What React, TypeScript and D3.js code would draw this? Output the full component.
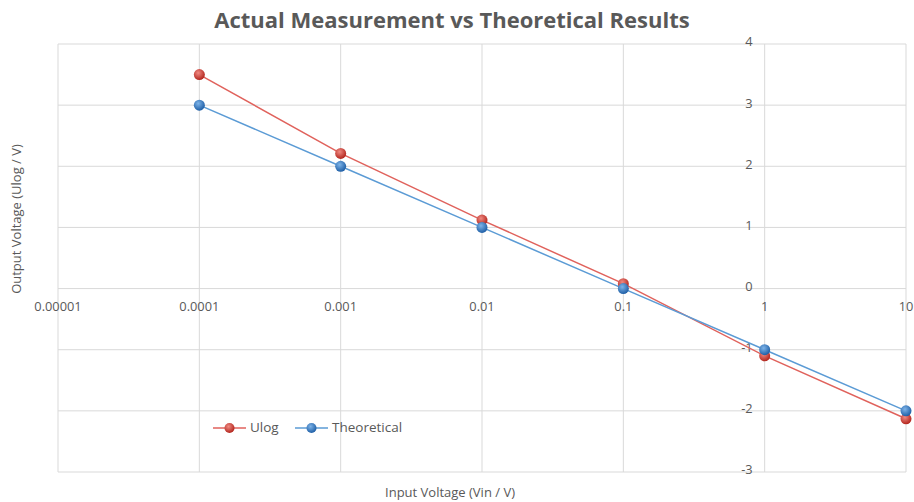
import React, { useEffect, useRef } from 'react'
import * as d3 from 'd3'

const inputVoltage = [0.0001, 0.001, 0.01, 0.1, 1, 10]
const ulogValues = [3.5, 2.21, 1.12, 0.08, -1.1, -2.13]
const theoreticalValues = [3, 2, 1, 0, -1, -2]
const xTicks = [0.00001, 0.0001, 0.001, 0.01, 0.1, 1, 10]
const xTickLabels = ['0.00001', '0.0001', '0.001', '0.01', '0.1', '1', '10']
const yTicks = [-3, -2, -1, 0, 1, 2, 3, 4]

const W = 914, H = 502
const margin = { top: 44, right: 8, bottom: 30, left: 58 }

export default function App() {
  const ref = useRef<SVGSVGElement>(null)

  useEffect(() => {
    const svg = d3.select(ref.current)
    svg.selectAll('*').remove()

    const x = d3.scaleLog().domain([0.00001, 10]).range([margin.left, W - margin.right])
    const y = d3.scaleLinear().domain([-3, 4]).range([H - margin.bottom, margin.top])

    const defs = svg.append('defs')
    const grad = (id, light, dark) => {
      const g = defs.append('radialGradient').attr('id', id)
        .attr('cx', '40%').attr('cy', '35%').attr('r', '65%')
      g.append('stop').attr('offset', '0%').attr('stop-color', light)
      g.append('stop').attr('offset', '100%').attr('stop-color', dark)
    }
    grad('gRed', '#f08a82', '#b3261e')
    grad('gBlue', '#7db3e8', '#1f5fa6')

    const font = "'Open Sans', sans-serif"
    const grid = '#d9d9d9'
    const textColor = '#595959'

    // horizontal gridlines
    svg.append('g').selectAll('line').data(yTicks).join('line')
      .attr('x1', margin.left).attr('x2', W - margin.right)
      .attr('y1', d => y(d)).attr('y2', d => y(d))
      .attr('stroke', grid).attr('stroke-width', 1)

    // vertical gridlines
    svg.append('g').selectAll('line').data(xTicks).join('line')
      .attr('x1', d => x(d)).attr('x2', d => x(d))
      .attr('y1', y(4)).attr('y2', y(-3))
      .attr('stroke', grid).attr('stroke-width', 1)

    // y tick labels (axis crosses at x = 1)
    svg.append('g').selectAll('text').data(yTicks).join('text')
      .attr('x', x(1) - 12).attr('y', d => y(d) - 1)
      .attr('text-anchor', 'end').attr('dominant-baseline', 'middle')
      .attr('font-family', font).attr('font-size', 12.8).attr('fill', textColor)
      .text(d => d)

    // x tick labels (axis crosses at y = 0)
    svg.append('g').selectAll('text').data(xTicks).join('text')
      .attr('x', d => x(d)).attr('y', y(0) + 22)
      .attr('text-anchor', 'middle')
      .attr('font-family', font).attr('font-size', 12.8).attr('fill', textColor)
      .text((d, i) => xTickLabels[i])

    const line = d3.line<number>()
      .x((d, i) => x(inputVoltage[i]))
      .y(d => y(d))

    const series = [
      { name: 'Ulog', values: ulogValues, stroke: '#e0625c', fill: 'url(#gRed)' },
      { name: 'Theoretical', values: theoreticalValues, stroke: '#5b9bd5', fill: 'url(#gBlue)' },
    ]

    series.forEach(s => {
      svg.append('path').datum(s.values)
        .attr('d', line).attr('fill', 'none')
        .attr('stroke', s.stroke).attr('stroke-width', 1.5)
    })
    series.forEach(s => {
      svg.append('g').selectAll('circle').data(s.values).join('circle')
        .attr('cx', (d, i) => x(inputVoltage[i])).attr('cy', d => y(d))
        .attr('r', 5.5).attr('fill', s.fill)
    })

    // legend
    const lg = svg.append('g').attr('transform', 'translate(213,428)')
    const items = [{ s: series[0], dx: 0, w: 33 }, { s: series[1], dx: 82, w: 33 }]
    items.forEach(({ s, dx, w }) => {
      lg.append('line').attr('x1', dx).attr('x2', dx + w).attr('y1', 0).attr('y2', 0)
        .attr('stroke', s.stroke).attr('stroke-width', 1.5)
      lg.append('circle').attr('cx', dx + w / 2).attr('cy', 0).attr('r', 5).attr('fill', s.fill)
      lg.append('text').attr('x', dx + w + 4).attr('y', 0)
        .attr('dominant-baseline', 'middle')
        .attr('font-family', font).attr('font-size', 13.5).attr('fill', textColor)
        .text(s.name)
    })

    // titles
    svg.append('text').attr('x', 452).attr('y', 28).attr('text-anchor', 'middle')
      .attr('font-family', font).attr('font-weight', 'bold').attr('font-size', 22)
      .attr('fill', textColor).text('Actual Measurement vs Theoretical Results')

    svg.append('text').attr('x', 450).attr('y', 497).attr('text-anchor', 'middle')
      .attr('font-family', font).attr('font-size', 13).attr('fill', textColor)
      .text('Input Voltage (Vin / V)')

    svg.append('text').attr('transform', 'translate(21,219) rotate(-90)')
      .attr('text-anchor', 'middle')
      .attr('font-family', font).attr('font-size', 13).attr('fill', textColor)
      .text('Output Voltage (Ulog / V)')
  }, [])

  return <svg ref={ref} width={W} height={H}
    style={{ position: 'absolute', left: 0, top: 0, background: '#fff' }} />
}
